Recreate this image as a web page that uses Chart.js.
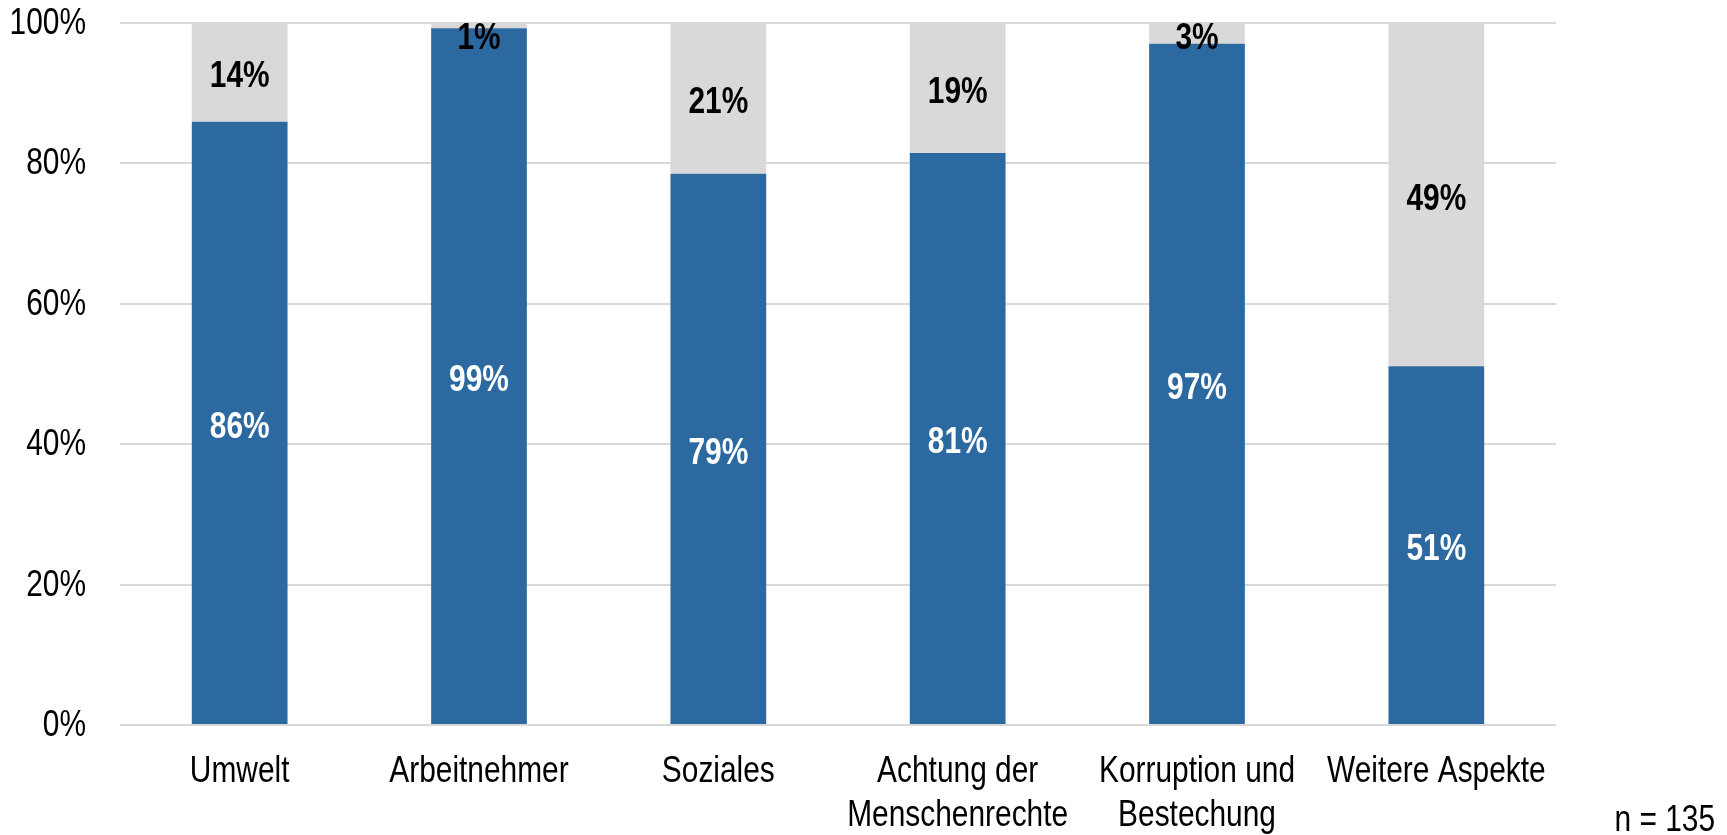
<!DOCTYPE html>
<html>
<head>
<meta charset="utf-8">
<script src="https://cdn.jsdelivr.net/npm/chart.js@4/dist/chart.umd.min.js"></script>
<style>
html,body{margin:0;padding:0;background:#fff;}
#wrap{width:1727px;height:835px;position:relative;}
</style>
</head>
<body>
<div id="wrap"><canvas id="c"></canvas></div>
<script>
const categories = ["Umwelt", "Arbeitnehmer", "Soziales", ["Achtung der", "Menschenrechte"], ["Korruption und", "Bestechung"], "Weitere Aspekte"];
const seriesYes = [85.93, 99.26, 78.52, 81.48, 97.04, 51.11];
const seriesNo = [14.07, 0.74, 21.48, 18.52, 2.96, 48.89];
const yTicks = [0, 20, 40, 60, 80, 100];
const noteText = "n = 135";

const FONT = "'Liberation Sans', Arial, sans-serif";
const SX = 0.83; // horizontal condensing to mimic a narrow face

function narrowText(ctx, text, x, y, align, baseline, font, color) {
  ctx.save();
  ctx.font = font;
  ctx.fillStyle = color;
  ctx.textAlign = align;
  ctx.textBaseline = baseline;
  ctx.translate(x, y);
  ctx.scale(SX, 1);
  ctx.fillText(text, 0, 0);
  ctx.restore();
}

const textPlugin = {
  id: 'narrowTexts',
  afterDatasetsDraw(chart) {
    const ctx = chart.ctx;
    const area = chart.chartArea;
    chart.data.datasets.forEach((ds, di) => {
      const meta = chart.getDatasetMeta(di);
      meta.data.forEach((bar, i) => {
        const v = ds.data[i];
        let cy = (bar.y + bar.base) / 2;
        if (cy < area.top + 11) cy = area.top + 11;
        narrowText(ctx, Math.round(v) + '%', bar.x, cy + 5, 'center', 'middle', 'bold 36px ' + FONT, di === 0 ? '#ffffff' : '#000000');
      });
    });
    const ys = chart.scales.y;
    ys.ticks.forEach(t => {
      narrowText(ctx, t.value + '%', area.left - 34, ys.getPixelForValue(t.value) + 1, 'right', 'middle', '36px ' + FONT, '#000');
    });
    const xs = chart.scales.x;
    chart.data.labels.forEach((lab, i) => {
      const lines = Array.isArray(lab) ? lab : [lab];
      const x = xs.getPixelForValue(i);
      lines.forEach((ln, k) => {
        narrowText(ctx, ln, x, 782 + k * 44, 'center', 'alphabetic', '36px ' + FONT, '#000');
      });
    });
    narrowText(ctx, noteText, 1715, 831, 'right', 'alphabetic', '36px ' + FONT, '#000');
  }
};

new Chart(document.getElementById('c'), {
  type: 'bar',
  data: {
    labels: categories,
    datasets: [
      { label: 'Ja', data: seriesYes, backgroundColor: '#2c69a1', categoryPercentage: 1, barPercentage: 0.4 },
      { label: 'Nein', data: seriesNo, backgroundColor: '#d9d9d9', categoryPercentage: 1, barPercentage: 0.4 }
    ]
  },
  options: {
    responsive: true,
    maintainAspectRatio: false,
    animation: false,
    layout: { padding: { left: 0, right: 171, top: 23, bottom: 0 } },
    plugins: { legend: { display: false }, tooltip: { enabled: false } },
    scales: {
      x: {
        stacked: true,
        grid: { display: false },
        border: { display: false },
        ticks: { display: false },
        afterFit(scale) { scale.height = 110; scale.paddingLeft = 0; scale.paddingRight = 0; }
      },
      y: {
        stacked: true,
        min: 0, max: 100,
        afterBuildTicks(scale) { scale.ticks = yTicks.map(v => ({ value: v })); },
        grid: { color: '#d9d9d9', lineWidth: 2, drawTicks: false },
        border: { display: false },
        ticks: { display: false },
        afterFit(scale) { scale.width = 120; scale.paddingTop = 0; scale.paddingBottom = 0; }
      }
    }
  },
  plugins: [textPlugin]
});
</script>
</body>
</html>
